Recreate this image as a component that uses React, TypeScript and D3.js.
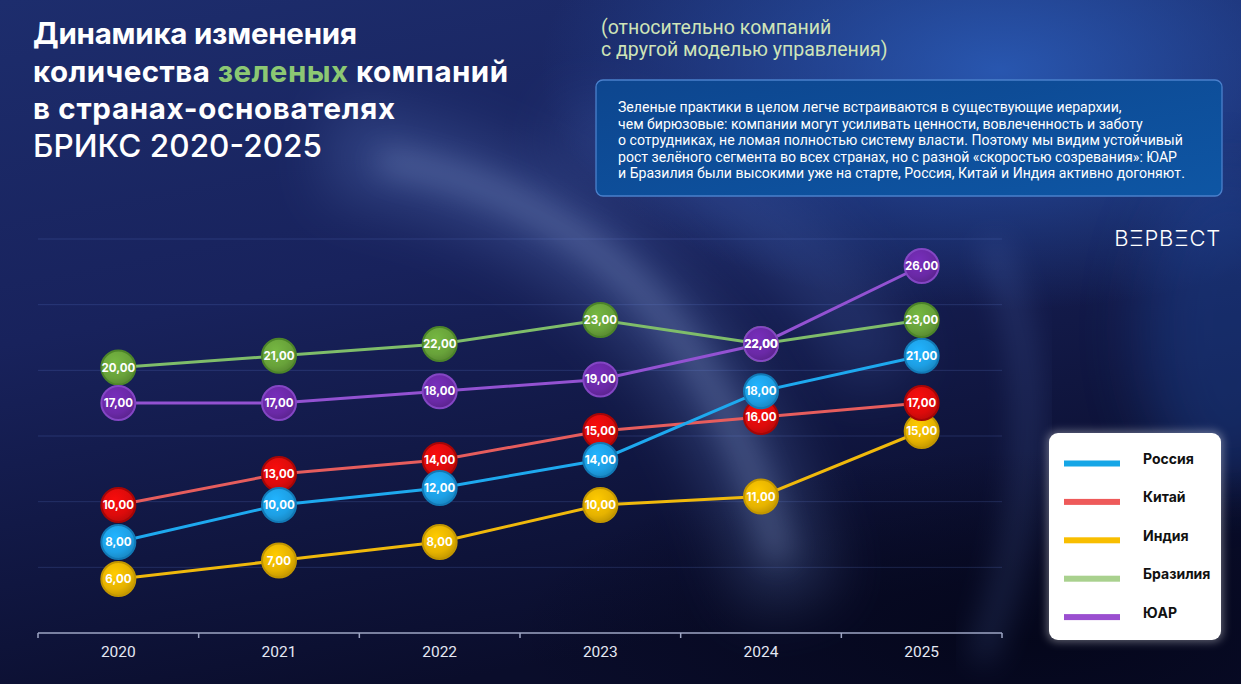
import React from 'react';
import * as d3 from 'd3';

// values per year
const years = ['2020', '2021', '2022', '2023', '2024', '2025'];
const russia = [8, 10, 12, 14, 18, 21];
const china = [10, 13, 14, 15, 16, 17];
const india = [6, 7, 8, 10, 11, 15];
const brazil = [20, 21, 22, 23, 22, 23];
const sar = [17, 17, 18, 19, 22, 26];
const gridValues = [6, 10.5, 15, 19.5, 24, 28.5];

const titleLines = ['Динамика изменения', 'количества ', 'в странах-основателях', 'БРИКС 2020-2025'];
const subtitleLines = ['(относительно компаний', 'с другой моделью управления)'];
const noteLines = [
  'Зеленые практики в целом легче встраиваются в существующие иерархии,',
  'чем бирюзовые: компании могут усиливать ценности, вовлеченность и заботу',
  'о сотрудниках, не ломая полностью систему власти. Поэтому мы видим устойчивый',
  'рост зелёного сегмента во всех странах, но с разной «скоростью созревания»: ЮАР',
  'и Бразилия были высокими уже на старте, Россия, Китай и Индия активно догоняют.',
];

interface Series {
  name: string;
  values: number[];
  line: string;
  fill: string;
  edge: string;
  legend: string;
}

const legendSeries: Series[] = [
  { name: 'Россия', values: russia, line: '#1ea9ef', fill: '#1d9fe4', edge: '#1279b6', legend: '#16a6e6' },
  { name: 'Китай', values: china, line: '#e65d5d', fill: '#dc0b0b', edge: '#a50606', legend: '#ee5a5a' },
  { name: 'Индия', values: india, line: '#f0b90c', fill: '#e6b300', edge: '#c29600', legend: '#f8be00' },
  { name: 'Бразилия', values: brazil, line: '#7fbd6a', fill: '#68a23a', edge: '#4c8529', legend: '#a9d18e' },
  { name: 'ЮАР', values: sar, line: '#9352d2', fill: '#6a29a6', edge: '#8446c4', legend: '#9b4fd0' },
];
// which lines go on top
const drawOrder = ['Индия', 'Китай', 'Россия', 'Бразилия', 'ЮАР'];

const W = 1241;
const H = 684;

const x = d3.scaleBand<string>().domain(years).range([38, 1002]).paddingInner(0).paddingOuter(0);
const gridY = d3.scaleLinear().domain([1.5, 28.5]).range([633, 239]);
// the original infographic is not evenly scaled, so a piecewise scale follows it
const y = d3
  .scaleLinear()
  .domain([6, 10, 12, 14, 15, 17, 22, 23, 26])
  .range([579, 505, 488, 460, 431, 403, 344, 320, 266]);

const fmt = (v: number) => d3.format('.2f')(v).replace('.', ',');

const App: React.FC = () => {
  const cx = (yr: string) => (x(yr) ?? 0) + x.bandwidth() / 2;
  const line = d3
    .line<number>()
    .x((_, i) => cx(years[i]))
    .y(d => y(d));
  const ordered = drawOrder.map(n => legendSeries.find(s => s.name === n)!);
  const [x0, x1] = x.range();

  return (
    <svg
      width={W}
      height={H}
      style={{ position: 'absolute', left: 0, top: 0, display: 'block' }}
      fontFamily="Inter, 'Noto Sans', sans-serif"
    >
      <defs>
        <linearGradient id="bg" x1="0" y1="0" x2="0.35" y2="1">
          <stop offset="0" stopColor="#1d2d6d" />
          <stop offset="0.45" stopColor="#18225c" />
          <stop offset="1" stopColor="#0a0d2b" />
        </linearGradient>
        <radialGradient id="glowTR" cx="0.5" cy="0.5" r="0.5">
          <stop offset="0" stopColor="#2b5fbd" stopOpacity="0.85" />
          <stop offset="1" stopColor="#2b5fbd" stopOpacity="0" />
        </radialGradient>
        <radialGradient id="dark" cx="0.5" cy="0.5" r="0.5">
          <stop offset="0" stopColor="#04061a" stopOpacity="0.9" />
          <stop offset="1" stopColor="#04061a" stopOpacity="0" />
        </radialGradient>
        <linearGradient id="note" x1="0" y1="0" x2="1" y2="1">
          <stop offset="0" stopColor="#0d468f" />
          <stop offset="1" stopColor="#0e56a4" />
        </linearGradient>
        <filter id="blur30" x="-50%" y="-50%" width="200%" height="200%">
          <feGaussianBlur stdDeviation="30" />
        </filter>
        <filter id="blur15" x="-50%" y="-50%" width="200%" height="200%">
          <feGaussianBlur stdDeviation="15" />
        </filter>
        <filter id="legendGlow" x="-20%" y="-20%" width="140%" height="140%">
          <feGaussianBlur stdDeviation="4" />
        </filter>
        {legendSeries.map((s, i) => (
          <radialGradient key={s.name} id={`m${i}`} cx="0.4" cy="0.35" r="0.65">
            <stop offset="0" stopColor={d3.color(s.fill)!.brighter(0.35).formatHex()} />
            <stop offset="0.7" stopColor={s.fill} />
            <stop offset="1" stopColor={d3.color(s.fill)!.darker(0.4).formatHex()} />
          </radialGradient>
        ))}
      </defs>

      {/* background */}
      <rect width={W} height={H} fill="url(#bg)" />
      <ellipse cx={1000} cy={70} rx={460} ry={240} fill="url(#glowTR)" />
      <ellipse cx={1230} cy={330} rx={90} ry={160} fill="#2352b0" opacity={0.35} filter="url(#blur30)" />
      <ellipse cx={1030} cy={640} rx={520} ry={190} fill="url(#dark)" />
      {/* curved light beams */}
      <path
        d="M 330 150 Q 700 200 790 600"
        fill="none"
        stroke="#6f90d8"
        strokeWidth={90}
        opacity={0.26}
        filter="url(#blur30)"
      />
      <path
        d="M 380 160 Q 690 210 780 560"
        fill="none"
        stroke="#a9bdec"
        strokeWidth={24}
        opacity={0.26}
        filter="url(#blur15)"
      />
      <path
        d="M 560 130 Q 820 200 880 380"
        fill="none"
        stroke="#5c82d6"
        strokeWidth={70}
        opacity={0.22}
        filter="url(#blur30)"
      />
      <path
        d="M 990 240 Q 1070 420 980 660"
        fill="none"
        stroke="#6c8ee0"
        strokeWidth={26}
        opacity={0.18}
        filter="url(#blur15)"
      />

      {/* title */}
      <g fill="#ffffff" fontWeight={700} fontSize={29.5}>
        <text x={33} y={44} textLength={324} lengthAdjust="spacing">{titleLines[0]}</text>
        <text x={33} y={81.5} textLength={475} lengthAdjust="spacing">
          {titleLines[1]}
          <tspan fill="#8cc873">зеленых</tspan> компаний
        </text>
        <text x={33} y={119} textLength={362} lengthAdjust="spacing">{titleLines[2]}</text>
        <text x={33} y={156.5} fontWeight={500} fontSize={31.5} textLength={289} lengthAdjust="spacing">
          {titleLines[3]}
        </text>
      </g>

      {/* subtitle */}
      <g fill="#cfe4b8" fontFamily="Roboto, sans-serif" fontSize={19.5}>
        {subtitleLines.map((t, i) => (
          <text key={i} x={601} y={34 + i * 22}>{t}</text>
        ))}
      </g>

      {/* note box */}
      <rect x={596} y={80} width={626} height={116} rx={7} fill="url(#note)" stroke="#4a80cc" strokeWidth={1.3} />
      <g fill="#ffffff" fontFamily="Roboto, sans-serif" fontSize={14.1}>
        {noteLines.map((t, i) => (
          <text key={i} x={618} y={112 + i * 16.5}>{t}</text>
        ))}
      </g>

      {/* logo */}
      <text
        x={1221}
        y={246}
        textAnchor="end"
        fill="#ffffff"
        fontWeight={300}
        fontSize={22}
        letterSpacing={0.8}
      >
        ВΞРВΞСТ
      </text>

      {/* grid */}
      <g stroke="#6f8ce6" strokeOpacity={0.2} strokeWidth={1}>
        {gridValues.map(v => (
          <line key={v} x1={x0} x2={x1} y1={gridY(v)} y2={gridY(v)} />
        ))}
      </g>

      {/* x axis */}
      <g stroke="#9ea6c4" strokeWidth={1.5}>
        <line x1={x0} x2={x1} y1={gridY(1.5)} y2={gridY(1.5)} />
        {[...years.map(yr => x(yr) ?? 0), x1].map((t, i) => (
          <line key={i} x1={t} x2={t} y1={gridY(1.5)} y2={gridY(1.5) + 5} />
        ))}
      </g>
      <g fill="#e4e8f3" fontSize={15.5} textAnchor="middle" fontFamily="Roboto, sans-serif">
        {years.map(yr => (
          <text key={yr} x={cx(yr)} y={657}>{yr}</text>
        ))}
      </g>

      {/* lines */}
      {ordered.map(s => (
        <path key={s.name} d={line(s.values) ?? ''} fill="none" stroke={s.line} strokeWidth={3} />
      ))}

      {/* markers */}
      {ordered.map(s => {
        const gi = legendSeries.indexOf(s);
        return (
          <g key={s.name}>
            {s.values.map((v, i) => (
              <circle
                key={i}
                cx={cx(years[i])}
                cy={y(v)}
                r={17}
                fill={`url(#m${gi})`}
                stroke={s.edge}
                strokeWidth={2}
              />
            ))}
          </g>
        );
      })}
      {ordered.map(s => (
        <g key={s.name} fill="#ffffff" fontSize={11.5} fontWeight={700} textAnchor="middle">
          {s.values.map((v, i) => (
            <text key={i} x={cx(years[i])} y={y(v) + 4}>{fmt(v)}</text>
          ))}
        </g>
      ))}

      {/* legend */}
      <rect x={1047} y={431} width={176} height={211} rx={10} fill="#ffffff" opacity={0.35} filter="url(#legendGlow)" />
      <rect x={1049} y={433} width={172} height={207} rx={9} fill="#ffffff" />
      {legendSeries.map((s, i) => {
        const ly = 463.5 + i * 38.4;
        return (
          <g key={s.name}>
            <rect x={1064} y={ly - 3} width={56} height={6} fill={s.legend} />
            <text x={1143} y={ly + 0.5} fontSize={14} fontWeight={700} fill="#111111">
              {s.name}
            </text>
          </g>
        );
      })}
    </svg>
  );
};

export default App;
